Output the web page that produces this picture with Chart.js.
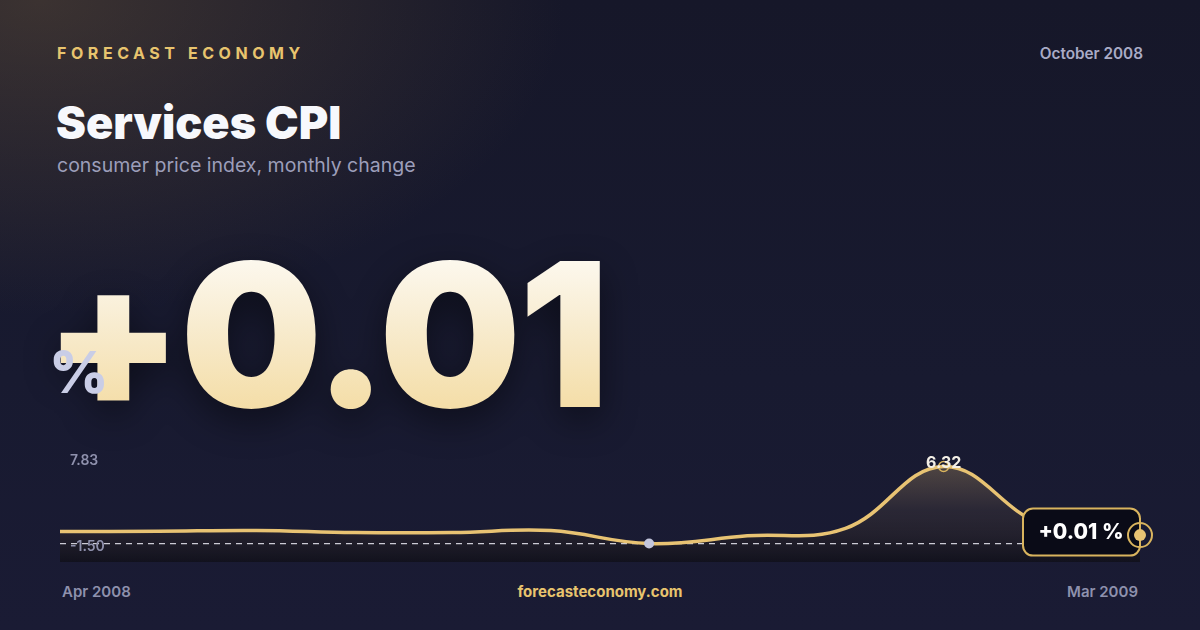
<!DOCTYPE html>
<html>
<head>
<meta charset="utf-8">
<script src="https://cdn.jsdelivr.net/npm/chart.js@4/dist/chart.umd.min.js"></script>
<style>
  html, body { margin: 0; padding: 0; }
  body {
    width: 1200px; height: 630px; overflow: hidden; position: relative;
    font-family: Inter, 'Noto Sans', sans-serif;
    background:
      radial-gradient(ellipse 700px 420px at 40px 0px, rgba(120, 95, 62, 0.38), rgba(120, 95, 62, 0) 75%),
      linear-gradient(180deg, #161729 0%, #181a30 60%, #1a1b34 100%);
  }
  .t { position: absolute; line-height: 1; white-space: nowrap; margin: 0; }
  #brand { left: 57px; top: 45px; font-size: 16px; font-weight: 700; letter-spacing: 4.55px; color: #e8c46e; }
  #date { right: 57px; top: 46px; font-size: 15.3px; font-weight: 600; color: #a9abc6; }
  #title { left: 56px; top: 100px; font-size: 45px; font-weight: 900; color: #f7f8fc; }
  #subtitle { left: 57px; top: 156px; font-size: 19.5px; font-weight: 400; color: #9c9eba; }
  #big {
    left: 44px; top: 234px; font-size: 200px; font-weight: 900; letter-spacing: -2.5px;
    background: linear-gradient(180deg, #fefdfa 0%, #f8ecd0 45%, #f3d99b 100%);
    -webkit-background-clip: text; background-clip: text; color: transparent;
    filter: drop-shadow(0 12px 18px rgba(0, 0, 0, 0.45));
  }
  #pct { left: 49px; top: 343px; font-size: 58px; font-weight: 800; color: #c9cde6; }
  .foot { top: 584px; font-size: 15px; font-weight: 600; color: #8e91ad; }
  #first { left: 62px; }
  #last { right: 62px; }
  #site { left: 0; width: 1200px; text-align: center; color: #e8c46e; font-weight: 700; }
  #chart { position: absolute; left: 0; top: 420px; }
</style>
</head>
<body>
<div class="t" id="brand">FORECAST ECONOMY</div>
<div class="t" id="date">October 2008</div>
<div class="t" id="title">Services CPI</div>
<div class="t" id="subtitle">consumer price index, monthly change</div>
<div class="t" id="big"></div>
<div class="t" id="pct">%</div>
<div class="t foot" id="first"></div>
<div class="t foot" id="site">forecasteconomy.com</div>
<div class="t foot" id="last"></div>
<canvas id="chart" width="1200" height="170" style="width:1200px;height:170px"></canvas>

<script>
// monthly change, %
const months = ['Apr 2008', 'May 2008', 'Jun 2008', 'Jul 2008', 'Aug 2008', 'Sep 2008',
                'Oct 2008', 'Nov 2008', 'Dec 2008', 'Jan 2009', 'Feb 2009', 'Mar 2009']
const values = [0.99, 1.02, 1.08, 0.91, 0.91, 1.07, 0.01, 0.64, 1.25, 6.32, 1.6, 0.70]
const yMin = -1.50
const yMax = 7.83
const currentIndex = 6

const fmt = v => (v >= 0 ? '+' : '') + v.toFixed(2)
const peakIndex = values.indexOf(Math.max(...values))
const lastIndex = values.length - 1

document.getElementById('big').textContent = fmt(values[currentIndex])
document.getElementById('first').textContent = months[0]
document.getElementById('last').textContent = months[lastIndex]

const gold = '#e8c373'

const overlay = {
  id: 'overlay',
  // runs after the filler, so the dashes sit on the fill but under the line
  beforeDatasetDraw (chart) {
    const { ctx, chartArea: a, scales: { y } } = chart
    const y0 = y.getPixelForValue(0)
    ctx.save()
    ctx.strokeStyle = 'rgba(235, 235, 245, 0.85)'
    ctx.lineWidth = 1.2
    ctx.setLineDash([6, 5])
    ctx.beginPath()
    ctx.moveTo(a.left, y0)
    ctx.lineTo(a.right, y0)
    ctx.stroke()
    ctx.restore()
  },
  afterDatasetsDraw (chart) {
    const { ctx, chartArea: a } = chart
    const pts = chart.getDatasetMeta(0).data
    ctx.save()

    // scale bounds
    ctx.font = '600 14px Inter'
    ctx.fillStyle = '#8f91ad'
    ctx.textBaseline = 'middle'
    ctx.textAlign = 'left'
    ctx.fillText(yMax.toFixed(2), a.left + 10, a.top + 13)
    ctx.fillText(yMin.toFixed(2), a.left + 10, a.bottom - 15)

    // peak label
    const pk = pts[peakIndex]
    ctx.font = '700 16px Inter'
    ctx.fillStyle = '#f3efe6'
    ctx.textAlign = 'center'
    ctx.textBaseline = 'alphabetic'
    ctx.fillText(values[peakIndex].toFixed(2), pk.x, pk.y + 1.5)

    // value pill at the end
    const lp = pts[lastIndex]
    const w = 117, h = 47
    const x = lp.x - w, yTop = lp.y - 3 - h / 2
    ctx.beginPath()
    ctx.roundRect(x, yTop, w, h, 10)
    ctx.fillStyle = '#0a0b17'
    ctx.fill()
    ctx.lineWidth = 2
    ctx.strokeStyle = '#d9b45e'
    ctx.stroke()
    ctx.font = '800 21px Inter'
    ctx.fillStyle = '#ffffff'
    ctx.textAlign = 'center'
    ctx.textBaseline = 'middle'
    ctx.fillText(fmt(values[currentIndex]) + ' %', x + 58, yTop + h / 2 + 1)

    // last point marker
    ctx.beginPath()
    ctx.arc(lp.x, lp.y, 12, 0, Math.PI * 2)
    ctx.strokeStyle = '#d9b45e'
    ctx.lineWidth = 2
    ctx.stroke()
    ctx.beginPath()
    ctx.arc(lp.x, lp.y, 6, 0, Math.PI * 2)
    ctx.fillStyle = gold
    ctx.fill()

    ctx.restore()
  }
}

const ctx = document.getElementById('chart').getContext('2d')

new Chart(ctx, {
  type: 'line',
  data: {
    labels: months,
    datasets: [{
      data: values,
      borderColor: gold,
      borderWidth: 3.5,
      tension: 0.4,
      fill: 'start',
      backgroundColor: (c) => {
        const a = c.chart.chartArea
        if (!a) return 'transparent'
        const g = c.chart.ctx.createLinearGradient(0, a.top, 0, a.bottom)
        g.addColorStop(0, 'rgba(210, 172, 110, 0.38)')
        g.addColorStop(0.55, 'rgba(70, 60, 58, 0.38)')
        g.addColorStop(1, 'rgba(14, 13, 18, 0.65)')
        return g
      },
      pointRadius: (c) => c.dataIndex === currentIndex || c.dataIndex === peakIndex ? 5 : 0,
      pointHoverRadius: 0,
      pointBackgroundColor: (c) => c.dataIndex === currentIndex ? '#c3c6dc' : 'rgba(0,0,0,0)',
      pointBorderColor: (c) => c.dataIndex === currentIndex ? '#c3c6dc' : '#d9b45e',
      pointBorderWidth: (c) => c.dataIndex === currentIndex ? 0 : 1.5
    }]
  },
  options: {
    responsive: false,
    animation: false,
    layout: { padding: { left: 60, right: 60, top: 28, bottom: 28 } },
    plugins: {
      legend: { display: false },
      tooltip: { enabled: false }
    },
    scales: {
      x: { display: false },
      y: { display: false, min: yMin, max: yMax }
    }
  },
  plugins: [overlay]
})
</script>
</body>
</html>
